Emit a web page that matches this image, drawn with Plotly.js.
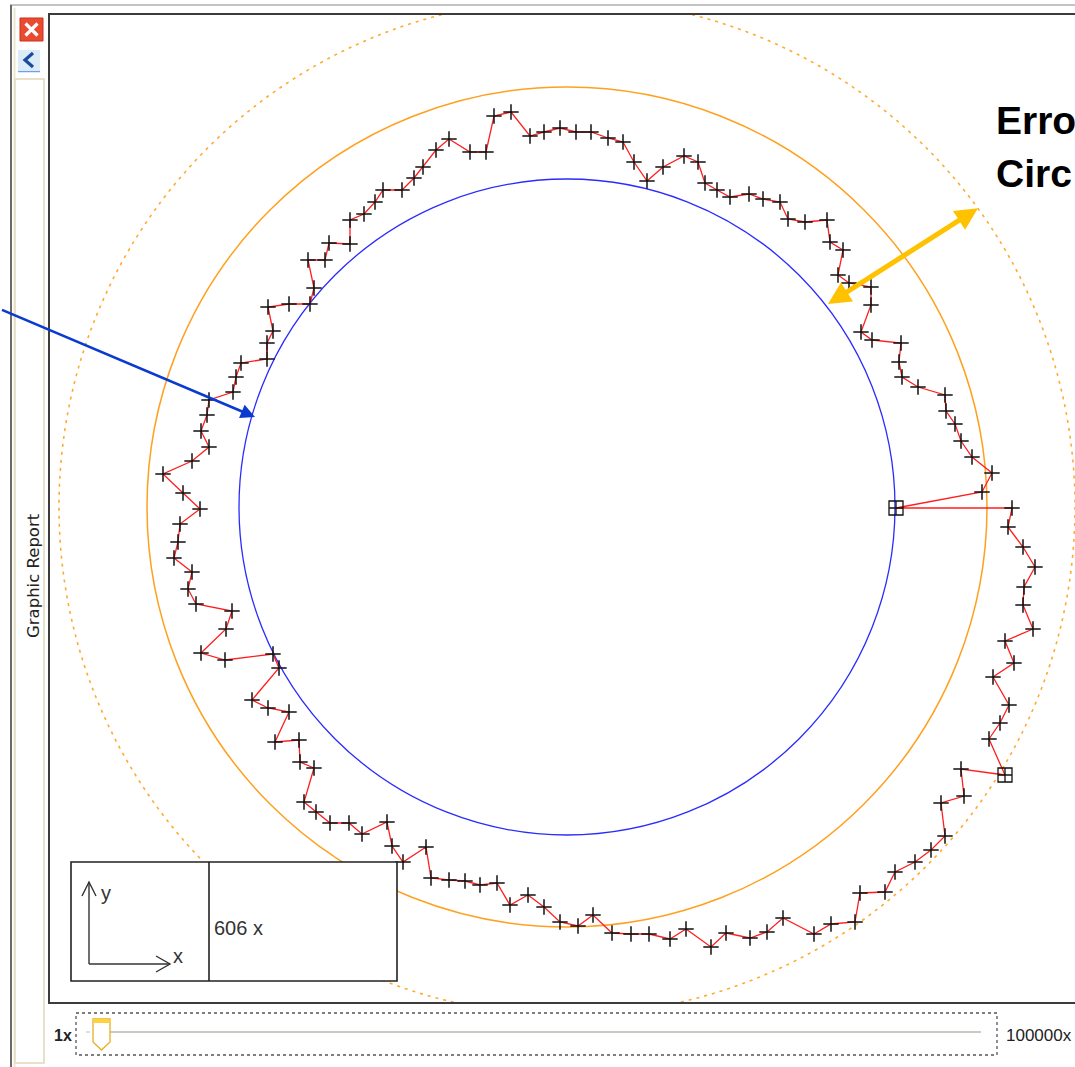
<!DOCTYPE html>
<html>
<head>
<meta charset="utf-8">
<script src="https://cdn.plot.ly/plotly-3.0.1.min.js"></script>
<style>
html,body{margin:0;padding:0;background:#fff;overflow:hidden;}
#chart{width:1075px;height:1067px;}
</style>
</head>
<body>
<div id="chart"></div>
<script>
// ---- Data (display units, centre of the fitted circle at 0,0) ----
const profileX = [445,441,456,468,457,456,466,438,447,426,442,433,422,438,394,397,374,378,364,348,328,318,293,288,264,247,216,200,183,159,144,119,103,82,64,45,26,11,-7,-23,-39,-57,-70,-87,-102,-118,-136,-141,-164,-175,-180,-205,-218,-237,-251,-263,-253,-267,-268,-292,-278,-299,-315,-288,-294,-342,-366,-341,-335,-371,-379,-375,-393,-389,-387,-367,-384,-404,-375,-358,-366,-360,-358,-334,-331,-326,-300,-300,-294,-299,-278,-257,-253,-259,-242,-238,-217,-217,-203,-192,-184,-165,-153,-144,-131,-118,-97,-81,-73,-56,-37,-23,-7,9,24,41,56,67,80,96,117,131,138,150,163,182,196,213,221,238,260,263,276,271,282,304,304,294,305,334,332,335,351,378,379,388,394,405,425,415];
const profileY = [-1,-20,-40,-60,-80,-98,-122,-134,-156,-170,-198,-216,-232,-268,-262,-289,-296,-329,-343,-355,-365,-385,-386,-415,-417,-427,-411,-425,-431,-426,-440,-422,-432,-427,-427,-426,-408,-419,-415,-400,-388,-398,-376,-378,-374,-373,-371,-340,-355,-339,-315,-327,-316,-316,-305,-295,-261,-255,-233,-235,-205,-201,-193,-161,-147,-153,-146,-122,-104,-97,-82,-65,-51,-35,-17,-2,14,33,46,60,76,92,107,115,130,144,148,164,176,200,203,203,219,247,247,264,263,287,293,305,317,317,329,340,357,368,355,355,391,395,371,375,379,375,375,369,365,345,326,340,351,345,324,317,310,313,308,305,288,285,287,265,257,232,224,220,202,175,167,164,145,130,120,112,96,83,66,50,34,15];
const markedIndex = 13;          // profile point drawn with a boxed marker
const anchorX = [329];           // start/end anchor of the profile
const anchorY = [-1];
const referenceRadius = 328;     // blue fitted circle
const outerRadius = 420;         // orange circle
const limitRadius = 508;         // dotted orange circle
const calloutLines = ["Erro", "Circ"];
const zoomLabel = "606 x";
const sliderMin = "1x";
const sliderMax = "100000x";
const sideTitle = "Graphic Report";

// ---- pixel -> paper helpers (plot area 49..1075 x 14..1003) ----
const L = 49, T = 14, W = 1026, H = 989;
const px = v => (v - L) / W;
const py = v => (T + H - v) / H;

// traces
const lineX = [anchorX[0]].concat(profileX, [anchorX[0]]);
const lineY = [anchorY[0]].concat(profileY, [anchorY[0]]);
const crossX = profileX.filter((_, i) => i !== markedIndex);
const crossY = profileY.filter((_, i) => i !== markedIndex);
const boxX = anchorX.concat([profileX[markedIndex]]);
const boxY = anchorY.concat([profileY[markedIndex]]);

const traces = [
  {type:'scatter', mode:'lines', x:lineX, y:lineY, line:{color:'#ff1e1e', width:1.3}, hoverinfo:'skip'},
  {type:'scatter', mode:'markers', x:crossX, y:crossY,
   marker:{symbol:'cross-thin', size:11, color:'#000', line:{color:'#111', width:1.5}}, hoverinfo:'skip'},
  {type:'scatter', mode:'markers', x:boxX, y:boxY,
   marker:{symbol:'square-cross-open', size:14, color:'#111', line:{color:'#111', width:1.3}}, hoverinfo:'skip'}
];

function circle(r, color, width, dash){
  return {type:'circle', xref:'x', yref:'y', x0:-r, x1:r, y0:-r, y1:r, layer:'below',
          line:{color:color, width:width, dash:dash||'solid'}};
}
function pline(x0,y0,x1,y1,color,width,dash){
  return {type:'line', xref:'paper', yref:'paper', x0:px(x0), y0:py(y0), x1:px(x1), y1:py(y1),
          line:{color:color, width:width, dash:dash||'solid'}, layer:'above'};
}
function prect(x0,y0,x1,y1,lineColor,width,fill,dash){
  return {type:'rect', xref:'paper', yref:'paper', x0:px(x0), y0:py(y0), x1:px(x1), y1:py(y1),
          line:{color:lineColor, width:width, dash:dash||'solid'}, fillcolor:fill||'rgba(0,0,0,0)', layer:'above'};
}
function ppath(pts, color, width, fill){
  let d = pts.map((p,i)=>(i?'L':'M')+px(p[0])+','+py(p[1])).join(' ');
  if (fill) d += ' Z';
  return {type:'path', xref:'paper', yref:'paper', path:d, line:{color:color, width:width},
          fillcolor: fill || 'rgba(0,0,0,0)', layer:'above'};
}

const shapes = [
  circle(limitRadius, '#ffaa30', 1.6, '3px,5px'),
  circle(outerRadius, '#ffa01e', 1.5),
  circle(referenceRadius, '#2b2bff', 1.3),
  // plot frame
  prect(49, 14, 1100, 1003, '#3c3c3c', 2),
  // window borders / sidebar
  pline(10, 5, 1075, 5, '#8a8a8a', 1.2),
  pline(11, 5, 11, 1067, '#6a6a6a', 2),
  pline(14.5, 8, 14.5, 1067, '#ebe7d2', 2),
  prect(15, 79, 44, 1063, '#e6e1c8', 2, '#ffffff'),
  // close icon
  prect(20, 18, 43, 41, '#c8331f', 1, '#ea4a30'),
  pline(25.5, 23.5, 37.5, 35.5, '#ffffff', 3.2),
  pline(37.5, 23.5, 25.5, 35.5, '#ffffff', 3.2),
  // back icon
  prect(18, 50, 40, 70, 'rgba(0,0,0,0)', 0, '#dcebf8'),
  ppath([[33,53],[25,60],[33,67]], '#1c4a9c', 3.2),
  pline(18, 71.5, 40, 71.5, '#6ea2e4', 1.5),
  // inset box
  prect(71, 862, 397, 981, '#222', 1.6, '#ffffff'),
  pline(209, 862, 209, 981, '#222', 1.6),
  pline(89, 882, 89, 964, '#333', 1.4),
  pline(89, 964, 170, 964, '#333', 1.4),
  ppath([[82,896],[89,882],[96,896]], '#333', 1.4),
  ppath([[156,956],[170,964],[156,972]], '#333', 1.4),
  // slider
  prect(76, 1013, 997, 1055, '#555', 1.3, 'rgba(0,0,0,0)', 'dot'),
  pline(104, 1032, 981, 1032, '#b8b8b0', 1.6),
  pline(86, 1032, 90, 1032, '#c8c8c8', 1.2),
  ppath([[93,1019],[110,1019],[110,1042],[101.5,1050],[93,1042]], '#e8b020', 1.3, '#ffffff'),
  prect(93.5, 1019, 109.5, 1023, 'rgba(0,0,0,0)', 0, '#ffd23c')
];

const annotations = [
  // blue arrow to reference circle
  {x:-312, y:90, xref:'x', yref:'y', text:' ', showarrow:true, ax:-255, ay:-108,
   arrowcolor:'#0a3ad0', arrowwidth:2.6, arrowhead:2, arrowsize:1.1, standoff:0, borderpad:0},
  // yellow double-headed arrow
  {x:261, y:203, xref:'x', yref:'y', ax:413, ay:300, axref:'x', ayref:'y', text:' ', showarrow:true,
   arrowside:'end+start', arrowhead:2, startarrowhead:2, arrowsize:0.9, startarrowsize:0.9,
   arrowwidth:5, arrowcolor:'#ffc200', standoff:0, startstandoff:0, borderpad:0},
  {x:px(994), y:py(121), xref:'paper', yref:'paper', xanchor:'left', yanchor:'middle', text:'<b>'+calloutLines[0]+'</b>',
   showarrow:false, font:{family:'Liberation Sans, Arial, sans-serif', size:39, color:'#000'}},
  {x:px(994), y:py(173), xref:'paper', yref:'paper', xanchor:'left', yanchor:'middle', text:'<b>'+calloutLines[1]+'</b>',
   showarrow:false, font:{family:'Liberation Sans, Arial, sans-serif', size:39, color:'#000'}},
  {x:px(33), y:py(576), xref:'paper', yref:'paper', xanchor:'center', yanchor:'middle', text:sideTitle,
   textangle:-90, showarrow:false, font:{family:'DejaVu Sans, sans-serif', size:16.5, color:'#222'}},
  {x:px(212), y:py(928), xref:'paper', yref:'paper', xanchor:'left', yanchor:'middle', text:zoomLabel,
   showarrow:false, font:{family:'Liberation Sans, Arial, sans-serif', size:20, color:'#333'}},
  {x:px(106), y:py(893), xref:'paper', yref:'paper', xanchor:'center', yanchor:'middle', text:'y',
   showarrow:false, font:{family:'Liberation Sans, Arial, sans-serif', size:20, color:'#333'}},
  {x:px(178), y:py(956), xref:'paper', yref:'paper', xanchor:'center', yanchor:'middle', text:'x',
   showarrow:false, font:{family:'Liberation Sans, Arial, sans-serif', size:20, color:'#333'}},
  {x:px(52), y:py(1035), xref:'paper', yref:'paper', xanchor:'left', yanchor:'middle', text:'<b>'+sliderMin+'</b>',
   showarrow:false, font:{family:'Liberation Sans, Arial, sans-serif', size:16, color:'#222'}},
  {x:px(1004), y:py(1035), xref:'paper', yref:'paper', xanchor:'left', yanchor:'middle', text:sliderMax,
   showarrow:false, font:{family:'Liberation Sans, Arial, sans-serif', size:17, color:'#222'}}
];

const layout = {
  width:1075, height:1067,
  margin:{l:L, r:0, t:T, b:1067 - T - H, pad:0},
  paper_bgcolor:'#ffffff', plot_bgcolor:'#ffffff',
  showlegend:false,
  xaxis:{range:[-518, 508], visible:false, fixedrange:true},
  yaxis:{range:[-496, 493], visible:false, fixedrange:true},
  shapes:shapes,
  annotations:annotations
};

Plotly.newPlot('chart', traces, layout, {staticPlot:true, displayModeBar:false});
</script>
</body>
</html>
